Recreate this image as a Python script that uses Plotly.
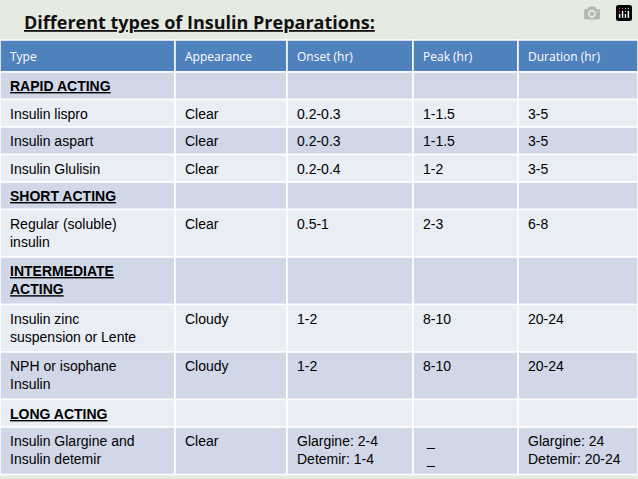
import plotly.graph_objects as go

title = "Different types of Insulin Preparations:"
headers = ["Type", "Appearance", "Onset (hr)", "Peak (hr)", "Duration (hr)"]
types = ["RAPID ACTING", "Insulin lispro", "Insulin aspart", "Insulin Glulisin", "SHORT ACTING",
         "Regular (soluble)<br>insulin", "INTERMEDIATE<br>ACTING", "Insulin zinc<br>suspension or Lente",
         "NPH or isophane<br>Insulin", "LONG ACTING", "Insulin Glargine and<br>Insulin detemir"]
appearance = ["", "Clear", "Clear", "Clear", "", "Clear", "", "Cloudy", "Cloudy", "", "Clear"]
onset = ["", "0.2-0.3", "0.2-0.3", "0.2-0.4", "", "0.5-1", "", "1-2", "1-2", "", "Glargine: 2-4<br>Detemir: 1-4"]
peak = ["", "1-1.5", "1-1.5", "1-2", "", "2-3", "", "8-10", "8-10", "", " _<br> _"]
duration = ["", "3-5", "3-5", "3-5", "", "6-8", "", "20-24", "20-24", "", "Glargine: 24<br>Detemir: 20-24"]
is_section = [True, False, False, False, True, False, True, False, False, True, False]

col_x = [0, 175, 287, 413, 518, 638]
top, head_h = 40, 32
fig = go.Figure()
shapes, ann = [], []
shapes.append(dict(type="rect", x0=0, x1=638, y0=0, y1=479, fillcolor="#e6ebe2", line_width=0, layer="below"))
for i, h in enumerate(headers):
    shapes.append(dict(type="rect", x0=col_x[i], x1=col_x[i+1], y0=top, y1=top+head_h,
                       fillcolor="#4f81bd", line=dict(color="white", width=1.5)))
    ann.append(dict(x=col_x[i]+8, y=top+head_h/2, text=h, showarrow=False, xanchor="left",
                    yanchor="middle", font=dict(family="Open Sans", size=12, color="white")))
y = top + head_h
cols = [types, appearance, onset, peak, duration]
for r in range(len(types)):
    nl = max(c[r].count("<br>") + 1 for c in cols)
    h = 27.5 if nl == 1 else 47.5
    fill = "#d0d8e8" if r % 2 == 0 else "#e9edf4"
    for i, c in enumerate(cols):
        shapes.append(dict(type="rect", x0=col_x[i], x1=col_x[i+1], y0=y, y1=y+h,
                           fillcolor=fill, line=dict(color="white", width=1.5)))
        txt = c[r]
        if i == 0 and is_section[r]:
            txt = "<b><u>" + txt.replace("<br>", "</u><br><u>") + "</u></b>"
        if txt:
            ann.append(dict(x=col_x[i]+8, y=y+4, text=txt, showarrow=False, xanchor="left",
                            yanchor="top", align="left",
                            font=dict(family="Liberation Sans", size=14, color="black")))
    y += h
ann.append(dict(x=22, y=22, text="<b><u>" + title + "</u></b>", showarrow=False, xanchor="left",
                yanchor="middle", font=dict(family="Open Sans", size=18, color="#111")))
fig.update_layout(width=638, height=479, margin=dict(l=0, r=0, t=0, b=0),
                  shapes=shapes, annotations=ann, plot_bgcolor="#e6ebe2", paper_bgcolor="#e6ebe2",
                  xaxis=dict(range=[0, 638], visible=False, fixedrange=True),
                  yaxis=dict(range=[479, 0], visible=False, fixedrange=True), showlegend=False)
fig.write_html("out.html")
with open("out.html", encoding="utf-8") as f:
    html = f.read()
html = html.replace("<body>", '<body style="margin:0;overflow:hidden">', 1)
with open("out.html", "w", encoding="utf-8") as f:
    f.write(html)
